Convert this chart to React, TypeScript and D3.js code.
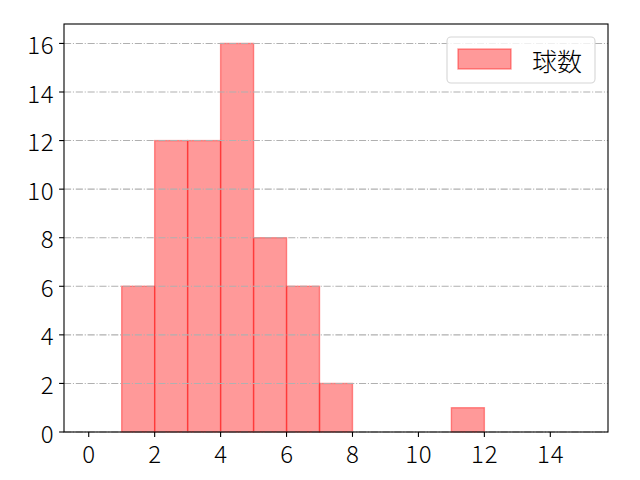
import React from "react";
import * as d3 from "d3";

const binEdges = [0, 1, 2, 3, 4, 5, 6, 7, 8, 9, 10, 11, 12, 13, 14, 15];
const counts = [0, 6, 12, 12, 16, 8, 6, 2, 0, 0, 0, 1, 0, 0, 0];
const xTicks = [0, 2, 4, 6, 8, 10, 12, 14];
const yTicks = [0, 2, 4, 6, 8, 10, 12, 14, 16];
const legendLabel = "球数";

const W = 640;
const H = 480;
const L = 64;
const R = 608;
const T = 24;
const B = 432;
const FONT = "'Noto Sans CJK JP', 'Noto Sans', sans-serif";

export default function App() {
  const x = d3.scaleLinear().domain([-0.75, 15.75]).range([L, R]);
  const y = d3.scaleLinear().domain([0, 16.8]).range([B, T]);

  const bins = counts.map((c, i) => ({ x0: binEdges[i], x1: binEdges[i + 1], c }));

  return (
    <svg
      width={W}
      height={H}
      style={{ position: "absolute", left: 0, top: 0, background: "#fff" }}
      fontFamily={FONT}
      fontWeight={300}
    >
      <rect x={0} y={0} width={W} height={H} fill="#fff" />
      {bins
        .filter((b) => b.c > 0)
        .map((b, i) => (
          <rect
            key={i}
            x={x(b.x0)}
            y={y(b.c)}
            width={x(b.x1) - x(b.x0)}
            height={y(0) - y(b.c)}
            fill="red"
            fillOpacity={0.4}
            stroke="red"
            strokeOpacity={0.4}
            strokeWidth={1.4}
          />
        ))}
      {yTicks.map((t) => (
        <line
          key={"g" + t}
          x1={L}
          x2={R}
          y1={y(t)}
          y2={y(t)}
          stroke="#b0b0b0"
          strokeWidth={1.1}
          strokeDasharray="7.1,1.8,1.1,1.8"
        />
      ))}
      <rect x={L} y={T} width={R - L} height={B - T} fill="none" stroke="#000" strokeWidth={1.1} />
      {xTicks.map((t) => (
        <g key={"x" + t}>
          <line x1={x(t)} x2={x(t)} y1={B} y2={B + 4.9} stroke="#000" strokeWidth={1.1} />
          <text x={x(t) + 0.4} y={B + 9} textAnchor="middle" dominantBaseline="hanging" fontSize={24} letterSpacing={0.8} fill="#000">
            {t}
          </text>
        </g>
      ))}
      {yTicks.map((t) => (
        <g key={"y" + t}>
          <line x1={L - 4.9} x2={L} y1={y(t)} y2={y(t)} stroke="#000" strokeWidth={1.1} />
          <text x={L - 9.5} y={y(t)} textAnchor="end" dominantBaseline="central" fontSize={24} letterSpacing={0.8} fill="#000">
            {t}
          </text>
        </g>
      ))}
      <g>
        <rect x={447} y={37} width={148} height={46} rx={4} fill="#fff" fillOpacity={0.8} stroke="#d6d6d6" strokeWidth={1.1} />
        <rect x={458} y={49} width={53} height={20} fill="red" fillOpacity={0.4} stroke="red" strokeOpacity={0.4} strokeWidth={1.4} />
        <text x={532} y={60} dominantBaseline="central" fontSize={25} fill="#000">
          {legendLabel}
        </text>
      </g>
    </svg>
  );
}
